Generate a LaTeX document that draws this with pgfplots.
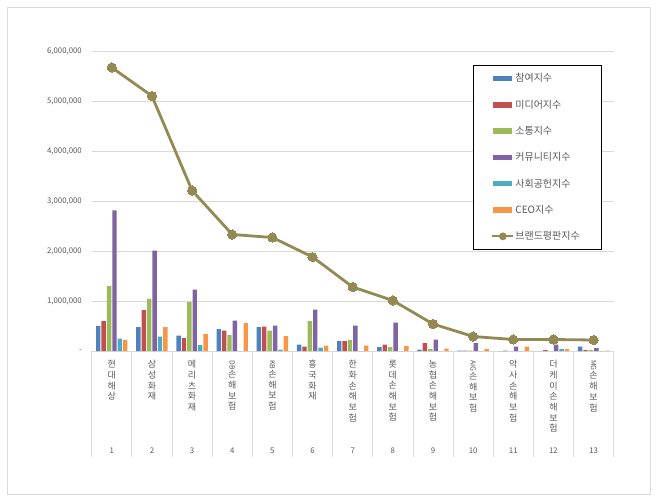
\documentclass[border=0pt]{standalone}
\usepackage{fontspec}
\setmainfont{Noto Sans CJK KR}
\usepackage{graphicx}
\usepackage{pgfplots}
\usepackage{pgfplotstable}
\pgfplotsset{compat=1.18}

\definecolor{cblue}{HTML}{4F81BD}
\definecolor{cred}{HTML}{C0504D}
\definecolor{cgreen}{HTML}{9BBB59}
\definecolor{cpurple}{HTML}{8064A2}
\definecolor{ccyan}{HTML}{4BACC6}
\definecolor{corange}{HTML}{F79646}
\definecolor{cline}{HTML}{938953}
\definecolor{cgrid}{HTML}{D9D9D9}
\definecolor{ctext}{HTML}{595959}

% cat, 참여, 미디어, 소통, 커뮤니티, 사회공헌, CEO, 브랜드평판
\pgfplotstableread{
cat p m s c h e b
1 500000 600000 1300000 2810000 250000 220000 5670000
2 480000 820000 1050000 2010000 290000 480000 5100000
3 310000 260000 980000 1230000 120000 340000 3210000
4 440000 410000 320000 610000 0 560000 2330000
5 480000 490000 410000 510000 30000 300000 2270000
6 130000 90000 600000 830000 70000 110000 1880000
7 200000 200000 220000 510000 0 110000 1280000
8 80000 130000 80000 570000 0 100000 1010000
9 30000 160000 40000 230000 0 50000 540000
10 10000 10000 10000 160000 0 40000 290000
11 0 10000 0 90000 0 90000 230000
12 0 20000 0 130000 40000 40000 230000
13 90000 20000 20000 60000 0 10000 220000
}\brand

\pgfplotsset{
  barleg/.style={legend image code/.code={
    \path[draw=none, fill=none] (0pt,0pt) (41.7pt,0pt);
    \fill[#1] (19.7pt,-2.7pt) rectangle (38.7pt,2.7pt);}},
  bars/.style={ybar, bar width=4.4pt, draw=none, fill=#1, barleg=#1},
}

\begin{document}
\begin{tikzpicture}
\path (-91.7pt,-152pt) rectangle (568.3pt,351pt);
\draw[cgrid, line width=0.75pt] (-84pt,-143.7pt) rectangle (558.3pt,344pt);
\begin{axis}[
  scale only axis, width=522pt, height=300pt,
  xmin=0.5, xmax=13.5, ymin=0, ymax=6000000,
  axis x line*=bottom, axis y line*=left,
  x axis line style={draw=cgrid, line width=0.75pt, -},
  y axis line style={draw=none},
  major tick length=0pt,
  ymajorgrids, grid style={draw=cgrid, line width=0.75pt},
  scaled y ticks=false,
  ytick={0,1000000,2000000,3000000,4000000,5000000,6000000},
  yticklabels={-,{1,000,000},{2,000,000},{3,000,000},{4,000,000},{5,000,000},{6,000,000}},
  yticklabel style={anchor=east, inner sep=0pt, xshift=-9.7pt,
    font=\fontsize{7.8}{9}\selectfont, text=ctext},
  xtick={1,2,3,4,5,6,7,8,9,10,11,12,13},
  xticklabels={
    {현\\대\\해\\상},
    {삼\\성\\화\\재},
    {메\\리\\츠\\화\\재},
    {\rotatebox{-90}{\fontsize{7}{8}\selectfont DB}\\손\\해\\보\\험},
    {\rotatebox{-90}{\fontsize{7}{8}\selectfont KB}\\손\\해\\보\\험},
    {흥\\국\\화\\재},
    {한\\화\\손\\해\\보\\험},
    {롯\\데\\손\\해\\보\\험},
    {농\\협\\손\\해\\보\\험},
    {\rotatebox{-90}{\fontsize{7}{8}\selectfont AIG}\\손\\해\\보\\험},
    {악\\사\\손\\해\\보\\험},
    {더\\케\\이\\손\\해\\보\\험},
    {\rotatebox{-90}{\fontsize{7}{8}\selectfont MG}\\손\\해\\보\\험}},
  xticklabel style={anchor=north, inner sep=0pt, yshift=-9pt, align=center,
    font=\fontsize{9}{10.7}\selectfont, text=ctext},
  extra x ticks={1,2,3,4,5,6,7,8,9,10,11,12,13},
  extra x tick labels={1,2,3,4,5,6,7,8,9,10,11,12,13},
  extra x tick style={xticklabel style={anchor=center, yshift=-91pt,
    font=\fontsize{7.8}{9}\selectfont}},
  legend cell align=left,
  legend style={at={(0.7310,0.9533)}, anchor=north west, draw=black,
    line width=0.8pt, fill=white, inner sep=0pt, row sep=0pt,
    nodes={inner sep=0pt, text width=85.7pt, align=left, minimum height=26.3pt,
      font=\fontsize{10}{12}\selectfont, text=ctext}},
]
\addplot[bars=cblue, bar shift=-13.5pt] table[x=cat,y=p]{\brand};
\addplot[bars=cred, bar shift=-8.1pt] table[x=cat,y=m]{\brand};
\addplot[bars=cgreen, bar shift=-2.7pt] table[x=cat,y=s]{\brand};
\addplot[bars=cpurple, bar shift=2.7pt] table[x=cat,y=c]{\brand};
\addplot[bars=ccyan, bar shift=8.1pt] table[x=cat,y=h]{\brand};
\addplot[bars=corange, bar shift=13.5pt] table[x=cat,y=e]{\brand};
\addplot[cline, line width=2.8pt, mark=*, mark size=4.6pt,
  mark options={fill=cline, draw=cline, line width=0pt},
  legend image code/.code={
    \path[draw=none, fill=none] (0pt,0pt) (41.7pt,0pt);
    \draw[cline, line width=2pt] (18.7pt,0pt) -- (39.7pt,0pt);
    \fill[cline] (29.2pt,0pt) circle (2.4pt);}]
  table[x=cat,y=b]{\brand};
\legend{참여지수,미디어지수,소통지수,커뮤니티지수,사회공헌지수,CEO지수,브랜드평판지수}
\end{axis}
\foreach \i in {0,...,13}
  \draw[cgrid, line width=0.75pt] ({\i*40.1538pt},0pt) -- ++(0pt,-106pt);
\end{tikzpicture}
\end{document}
